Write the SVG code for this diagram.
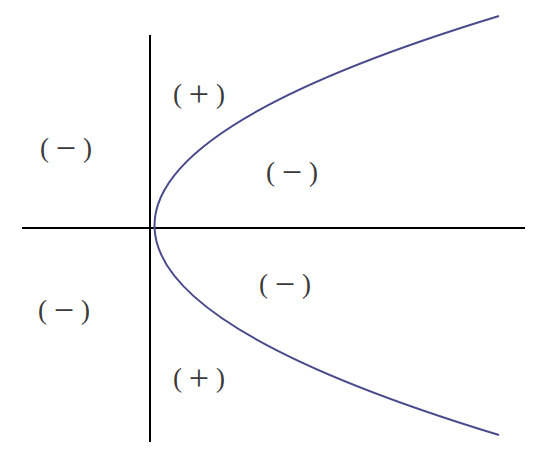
<svg xmlns="http://www.w3.org/2000/svg" width="539" height="457" viewBox="0 0 539 457">
<style>
.ax{stroke:#000;stroke-width:2;fill:none}
.cv{stroke:#4a4a8c;stroke-width:2;fill:none}
.lb{font-family:"Liberation Serif",serif;font-size:27px;fill:#3a3a3a;text-anchor:middle;dominant-baseline:central}
</style>
<rect width="539" height="457" fill="#fff"/>
<g id="connectors">
<line id="y-axis" class="ax" x1="150" y1="35" x2="150" y2="442"/>
<line id="x-axis" class="ax" x1="22" y1="228" x2="525" y2="228"/>
<path id="parabola" class="cv" d="M499,16 Q-190,225.5 499,435"/>
</g>
<g id="label-q1-plus"><text class="lb" x="199" y="94">( <tspan font-size="36">+</tspan> )</text></g>
<g id="label-left-top"><text class="lb" x="66" y="148">( <tspan font-size="36">−</tspan> )</text></g>
<g id="label-inside-top"><text class="lb" x="292" y="172">( <tspan font-size="36">−</tspan> )</text></g>
<g id="label-inside-bottom"><text class="lb" x="285" y="284">( <tspan font-size="36">−</tspan> )</text></g>
<g id="label-left-bottom"><text class="lb" x="64" y="310">( <tspan font-size="36">−</tspan> )</text></g>
<g id="label-q4-plus"><text class="lb" x="199" y="378">( <tspan font-size="36">+</tspan> )</text></g>
</svg>
